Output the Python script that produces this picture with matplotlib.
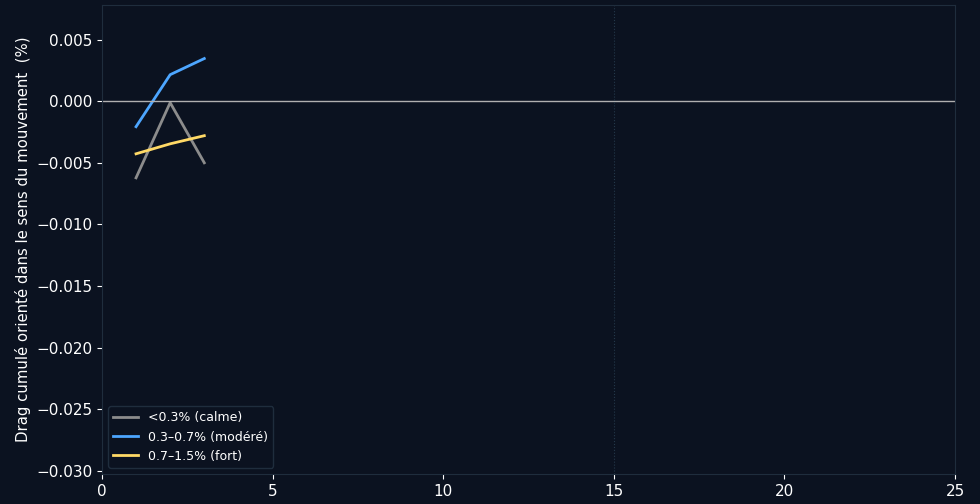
import numpy as np
import matplotlib.pyplot as plt

# Cumulative directional drag by volatility regime
horizons = [1, 2, 3]
calm = [-0.00622, -0.00012, -0.00500]
moderate = [-0.00207, 0.00215, 0.00346]
strong = [-0.00427, -0.00346, -0.00280]
labels = ["<0.3% (calme)", "0.3–0.7% (modéré)", "0.7–1.5% (fort)"]
colors = ["#8c8c8c", "#4da6ff", "#ffd966"]

bg = "#0b1220"
grid_c = "#1f2d3d"

fig = plt.figure(figsize=(9.8, 5.04), dpi=100, facecolor=bg)
ax = fig.add_axes([0.104, 0.0595, 0.8705, 0.9305])
ax.set_facecolor(bg)

for ys, lab, c in zip([calm, moderate, strong], labels, colors):
    ax.plot(horizons, ys, color=c, lw=2, label=lab)

ax.axhline(0, color="#b0b0b0", lw=1)
ax.axvline(15, color="#24384a", lw=0.8, ls=":")

ax.set_xlim(0, 25)
ax.set_ylim(-0.03025, 0.0078)
ax.set_xticks([0, 5, 10, 15, 20, 25])
ax.set_yticks(np.round(np.arange(-0.030, 0.0051, 0.005), 3))


def fmt(v, _):
    s = f"{v:.3f}"
    if s == "-0.000":
        s = "0.000"
    return s.replace("-", "\u2212")


ax.yaxis.set_major_formatter(plt.FuncFormatter(fmt))

for s in ax.spines.values():
    s.set_color(grid_c)
ax.tick_params(colors="white", labelsize=11)
ax.set_ylabel("Drag cumulé orienté dans le sens du mouvement  (%)", color="white",
              fontsize=10.7, labelpad=3.5)
ax.set_title("Drag cumulé post-mouvement par régime de volatilité (moyenne par bougie)",
             color="white", fontsize=14, fontweight="bold", pad=7)

leg = ax.legend(loc="lower left", fontsize=9, facecolor=bg, edgecolor=grid_c,
                labelcolor="white", framealpha=1)

fig.savefig("out.png", dpi=100, facecolor=bg)
